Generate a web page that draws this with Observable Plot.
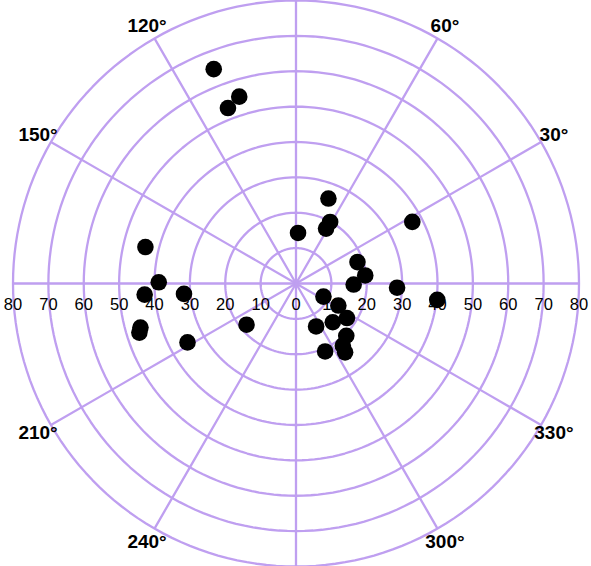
<!DOCTYPE html>
<html>
<head>
<meta charset="utf-8">
<script src="https://cdn.jsdelivr.net/npm/d3@7"></script>
<script src="https://cdn.jsdelivr.net/npm/@observablehq/plot@0.6"></script>
<style>
  body { margin: 0; background: #fff; }
  svg { display: block; }
</style>
</head>
<body>
<div id="chart"></div>
<script>
// Data points: angle (degrees, counter-clockwise from east) and radius
const angles = [111.0, 106.9, 111.2, 166.4, 179.5, 184.2, 185.3, 195.8, 197.4, 208.5, 219.8,
  87.7, 69.1, 61.0, 61.3, 27.9, 19.2, 6.6, 359.0, 357.6, 353.4,
  334.5, 332.5, 325.9, 313.5, 295.1, 313.9, 307.0, 293.2, 305.5];
const radii = [64.9, 55.2, 53.2, 43.8, 38.8, 42.9, 31.8, 45.7, 46.4, 34.9, 18.2,
  14.3, 25.7, 19.9, 17.7, 37.2, 18.4, 19.7, 16.3, 28.6, 40.2,
  8.6, 13.5, 17.4, 15.1, 13.4, 20.5, 22.0, 20.9, 23.9];

// Axis definitions
const ringValues = [10, 20, 30, 40, 50, 60, 70, 80];
const radialTickLabels = [0, 10, 20, 30, 40, 50, 60, 70, 80];
const spokeAngles = [0, 30, 60, 90, 120, 150, 180, 210, 240, 270, 300, 330];
const angleLabels = [30, 60, 120, 150, 210, 240, 300, 330];

const rMax = 80;
// polar -> (longitude, latitude) for an azimuthal projection centred on the pole
const lon = a => a + 90;
const lat = r => 90 - r;

const points = angles.map((a, i) => ({angle: a, r: radii[i]}));
const rightTicks = radialTickLabels.map(v => ({angle: 0, r: v, label: String(v)}));
const leftTicks = radialTickLabels.filter(v => v > 0).map(v => ({angle: 180, r: v, label: String(v)}));
const spokes = spokeAngles.map(a => ({angle: a}));
const angleText = angleLabels.map(a => ({angle: a, label: a + "°"}));

const gridColor = "#bf9ff0";

const chart = Plot.plot({
  width: 591,
  height: 566,
  margin: 0,
  inset: 0,
  style: {fontFamily: "'Liberation Sans', Arial, sans-serif", background: "#fff"},
  projection: {
    type: "azimuthal-equidistant",
    rotate: [0, -90],
    domain: d3.geoCircle().center([0, 90]).radius(rMax)()
  },
  marks: [
    ringValues.map(v => Plot.geo([d3.geoCircle().center([0, 90]).radius(v)()], {
      stroke: gridColor, strokeWidth: 2.3, fill: "none"
    })),
    Plot.link(spokes, {
      x1: d => lon(d.angle), y1: 90,
      x2: d => lon(d.angle), y2: lat(rMax),
      stroke: gridColor, strokeWidth: 2.3
    }),
    Plot.text(rightTicks, {
      x: d => lon(d.angle), y: d => lat(d.r), text: "label",
      dy: 21, fontSize: 16.5, fill: "#000"
    }),
    Plot.text(leftTicks, {
      x: d => lon(d.angle), y: d => lat(d.r), text: "label",
      dy: 21, fontSize: 16.5, fill: "#000"
    }),
    Plot.text(angleText, {
      x: d => lon(d.angle), y: d => lat(84.2), text: "label",
      fontSize: 19, fontWeight: "bold", fill: "#000"
    }),
    Plot.dot(points, {
      x: d => lon(d.angle), y: d => lat(d.r),
      r: 8.3, fill: "#000", stroke: "none"
    })
  ]
});

document.getElementById("chart").appendChild(chart);
</script>
</body>
</html>
